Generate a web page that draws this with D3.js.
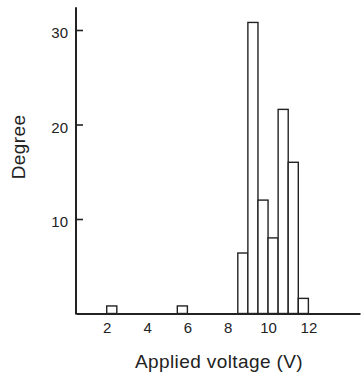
<!DOCTYPE html>
<html>
<head>
<meta charset="utf-8">
<script src="https://cdn.jsdelivr.net/npm/d3@7"></script>
<style>
	body { margin: 0; background: #fff; }
	text { font-family: "Liberation Sans", Arial, Helvetica, sans-serif; fill: #222; }
</style>
</head>
<body>
<div id="chartDiv"></div>
<script>
;(function() {

	// histogram bins (left edge, V) and counts
	var binStart = [2, 5.5, 8.5, 9, 9.5, 10, 10.5, 11, 11.5];
	var degree = [0.8, 0.8, 6.4, 30.8, 12, 8, 21.6, 16, 1.6];
	var binWidth = 0.5;

	var xTicks = [2, 4, 6, 8, 10, 12];
	var yTicks = [10, 20, 30];
	var xAxisLabelHeader = "Applied voltage (V)";
	var yAxisLabelHeader = "Degree";

	var width = 364;
	var height = 378;
	var inkColor = "#222";

	var data = binStart.map(function(d, i) {
		return { x0: d, x1: d + binWidth, y: degree[i] };
	});

	var chart = d3.select("#chartDiv").append("svg")
		.attr("width", width)
		.attr("height", height);

	var xScale = d3.scaleLinear()
		.domain([0.476, 14.56])
		.range([76, 360]);

	var yScale = d3.scaleLinear()
		.domain([0, 30])
		.range([313.5, 30]);

	var yTop = 32.4;

	// bars
	chart.selectAll(".bar")
		.data(data)
		.enter().append("rect")
			.attr("class", "bar")
			.attr("x", function(d) { return xScale(d.x0); })
			.attr("y", function(d) { return yScale(d.y); })
			.attr("width", function(d) { return xScale(d.x1) - xScale(d.x0); })
			.attr("height", function(d) { return yScale(0) - yScale(d.y); })
			.attr("fill", "#fff")
			.attr("stroke", inkColor)
			.attr("stroke-width", 1.4);

	// x axis, labels only
	var xAxis = d3.axisBottom(xScale)
		.tickValues(xTicks)
		.tickSize(0)
		.tickSizeOuter(0)
		.tickPadding(9);

	var xg = chart.append("g")
		.attr("transform", "translate(0," + yScale(0) + ")")
		.call(xAxis);
	xg.select(".domain").attr("stroke", inkColor).attr("stroke-width", 2);
	xg.selectAll(".tick text")
		.style("font-size", "15px")
		.attr("fill", inkColor);

	// y axis, ticks inward
	var yAxis = d3.axisLeft(yScale)
		.tickValues(yTicks)
		.tickSize(-7)
		.tickSizeOuter(0)
		.tickPadding(8);

	var yg = chart.append("g")
		.attr("transform", "translate(" + xScale.range()[0] + ",0)")
		.call(yAxis);
	yg.select(".domain")
		.attr("d", "M0," + yScale(yTop) + "V" + (yScale(0) + 1))
		.attr("stroke", inkColor)
		.attr("stroke-width", 2);
	yg.selectAll(".tick line").attr("stroke", inkColor).attr("stroke-width", 1.6);
	yg.selectAll(".tick text")
		.style("font-size", "15px")
		.attr("fill", inkColor)
		.attr("dy", "0.5em");

	// axis headers
	chart.append("text")
		.attr("text-anchor", "middle")
		.attr("x", 219)
		.attr("y", 368)
		.style("font-size", "19px")
		.style("letter-spacing", "0.4px")
		.text(xAxisLabelHeader);

	chart.append("text")
		.attr("text-anchor", "middle")
		.attr("transform", "translate(25,147) rotate(-90)")
		.style("font-size", "19px")
		.style("letter-spacing", "0.4px")
		.text(yAxisLabelHeader);

})();
</script>
</body>
</html>
